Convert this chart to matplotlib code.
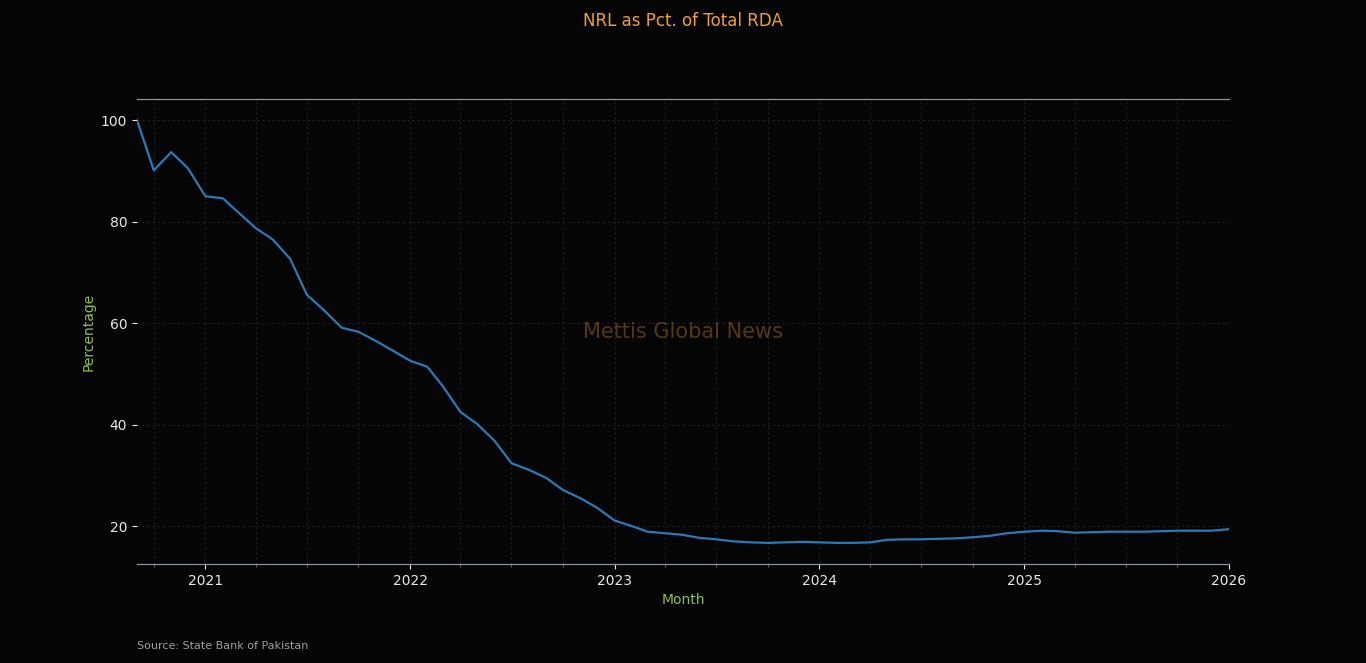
#!/usr/bin/env python3

import matplotlib as mpl

mpl.use("Agg")

import matplotlib.pyplot as plt
import matplotlib.dates as mdates
import pandas as pd

# monthly NRL share of total RDA, Sep 2020 .. Jan 2026
start_month = "2020-09-01"
nrl_pct = [
    100.0, 90.1, 93.7, 90.5,
    85.0, 84.6, 81.8, 78.7, 76.5, 72.7, 65.6, 62.5, 59.1, 58.3, 56.5, 54.6,
    52.6, 51.4, 47.5, 42.5, 40.1, 36.8, 32.4, 31.1, 29.5, 27.1, 25.5, 23.6,
    21.1, 20.0, 18.9, 18.6, 18.3, 17.7, 17.4, 17.0, 16.8, 16.7, 16.8, 16.9,
    16.8, 16.7, 16.7, 16.8, 17.3, 17.4, 17.4, 17.5, 17.6, 17.8, 18.1, 18.6,
    18.9, 19.1, 19.0, 18.7, 18.8, 18.9, 18.9, 18.9, 19.0, 19.1, 19.1, 19.1,
    19.4,
]
months = pd.date_range(start_month, periods=len(nrl_pct), freq="MS")

title = "NRL as Pct. of Total RDA"
watermark = "Mettis Global News"
source = "Source: State Bank of Pakistan"

bg = "#050505"
fig = plt.figure(figsize=(13.66, 6.63), dpi=100, facecolor=bg)
ax = fig.add_axes([137 / 1366, 99 / 663, 1092 / 1366, 465 / 663])
ax.set_facecolor(bg)

ax.plot(months, nrl_pct, color="#2a7ab9", lw=1.6)

ax.set_xlim(months[0], months[-1])
ax.xaxis.set_major_locator(mdates.YearLocator())
ax.xaxis.set_major_formatter(mdates.DateFormatter("%Y"))
ax.xaxis.set_minor_locator(mdates.MonthLocator(bymonth=[1, 4, 7, 10]))
ax.set_yticks([20, 40, 60, 80, 100])

grid_kw = dict(color="#242424", ls=(0, (3, 3)), lw=0.6)
ax.grid(True, which="both", axis="x", **grid_kw)
ax.grid(True, which="major", axis="y", **grid_kw)

for side in ("left", "right"):
    ax.spines[side].set_visible(False)
for side in ("top", "bottom"):
    ax.spines[side].set_color("#8894a0")
    ax.spines[side].set_linewidth(0.9)

ax.tick_params(axis="both", which="both", colors="#e8e8e8", labelsize=10)
ax.tick_params(axis="x", which="minor", length=2, colors="#6a7480")

ax.set_xlabel("Month", color="#8fc24a", fontsize=10)
ax.set_ylabel("Percentage", color="#8fc24a", fontsize=10)

fig.text(0.5, 1 - 21 / 663, title, color="#f0a030", fontsize=12,
         ha="center", va="center")
ax.text(0.5, 0.5, watermark, transform=ax.transAxes, color="#f5a030",
        alpha=0.33, fontsize=15, ha="center", va="center")
fig.text(137 / 1366, 1 - 646 / 663, source, color="#a0a0a0", fontsize=8,
         ha="left", va="center")

plt.savefig("out.png", facecolor=bg)
